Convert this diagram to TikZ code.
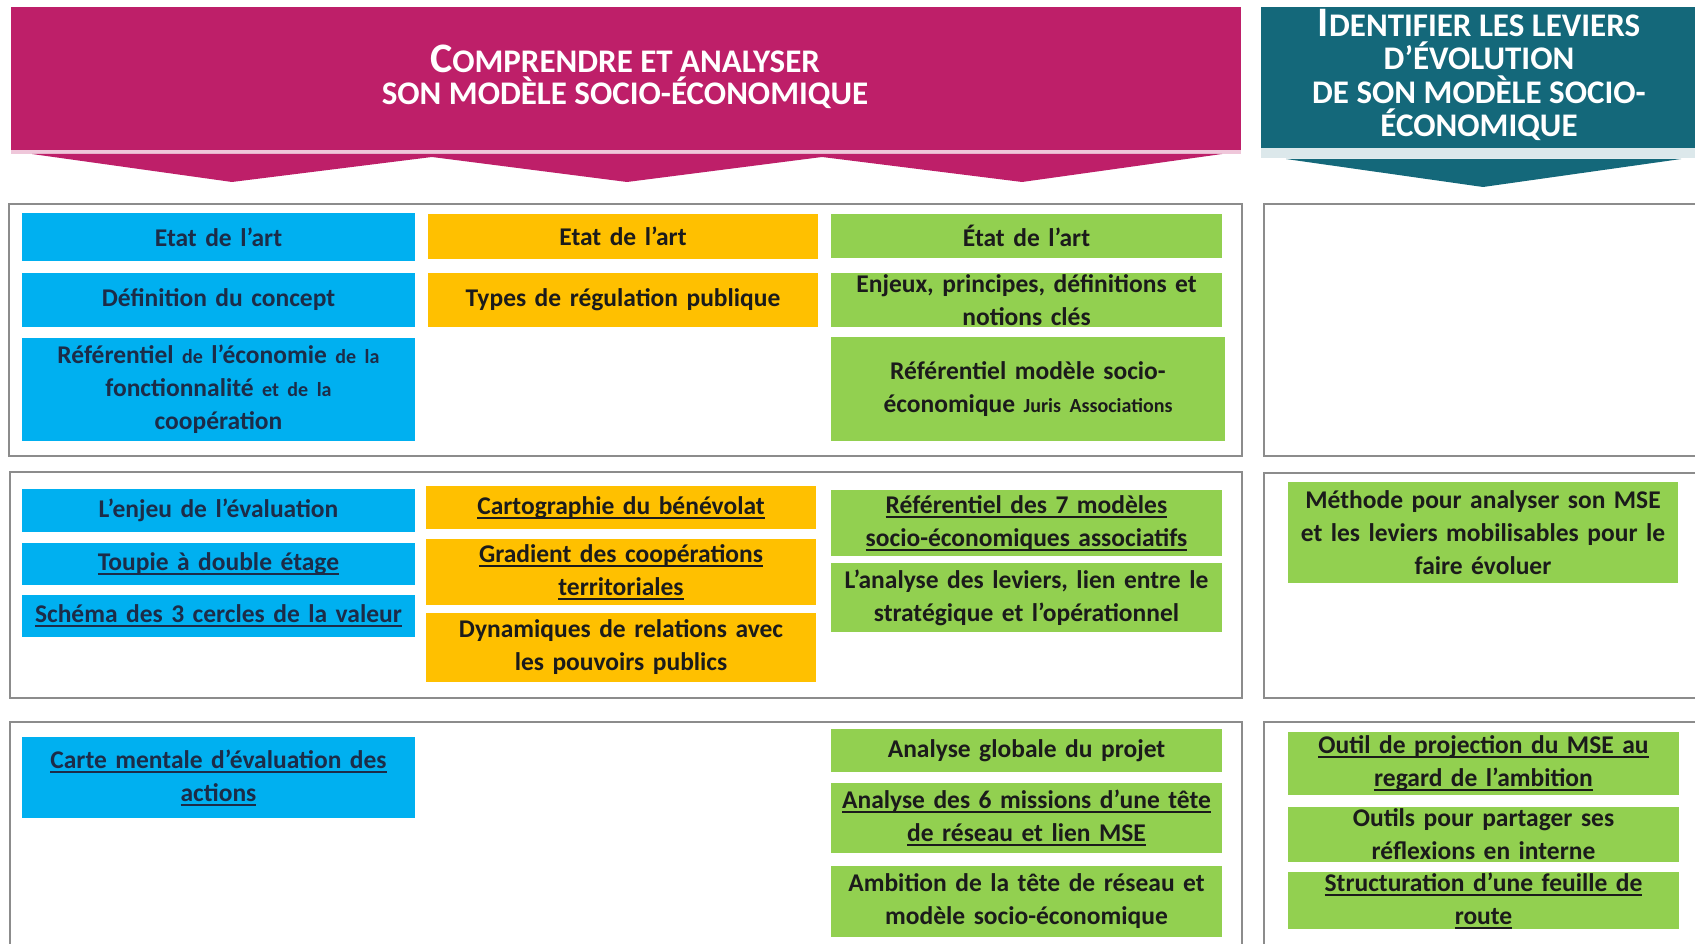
\documentclass[tikz,border=0pt]{standalone}
\usepackage{fontspec}
\setmainfont{Carlito}
\definecolor{mgt}{HTML}{BE1F69}
\definecolor{tealb}{HTML}{14687A}
\definecolor{bluebx}{HTML}{00B0F0}
\definecolor{orangebx}{HTML}{FFC000}
\definecolor{greenbx}{HTML}{92D050}
\definecolor{frameg}{HTML}{8C8C8C}
\definecolor{txtdark}{HTML}{1B1B1B}
\definecolor{txtnavy}{HTML}{1C2C48}
\newcommand\nolsk{\lineskiplimit=-50pt\relax}
\newcommand\ulx[1]{\leavevmode{\setbox0\hbox{#1}\rlap{\rule[-4.5pt]{\wd0}{1.8pt}}\box0}}
\newcommand\smw[1]{{\fontsize{20}{33}\selectfont #1}}
\newcommand\firstcap[1]{{\fontsize{42}{42}\selectfont #1}}
\newcommand\mybox[7]{\node[boxbase,fill=#6,minimum width={(#4-#2)*1pt},minimum height={(#5-#3)*1pt},text width={(#4-#2-8)*1pt}] (#1) at ({(#2+#4)/2},{(#3+#5)/2}) {#7};}
\newcommand\myframe[5]{\node[framebase,minimum width={(#4-#2)*1pt},minimum height={(#5-#3)*1pt}] (#1) at ({(#2+#4)/2},{(#3+#5)/2}) {};}
\tikzset{
  boxbase/.style={inner sep=0pt,align=center,font=\fontsize{25.5}{33}\selectfont\bfseries\nolsk,text=txtdark},
  framebase/.style={draw=frameg,line width=1.6pt,fill=white,inner sep=0pt},
  titletxt/.style={text=white,font=\fontsize{33}{32.5}\selectfont\bfseries\nolsk,align=center,inner sep=0pt},
  titletxtb/.style={text=white,font=\fontsize{33}{33.5}\selectfont\bfseries\nolsk,align=center,inner sep=0pt}
}
\begin{document}
\begin{tikzpicture}[x=1pt,y=-1pt]
\useasboundingbox (0,0) rectangle (1695,944);
\fill[white] (0,0) rectangle (1695,944);
% banners
\fill[mgt] (11,7) rectangle (1241,150);
\fill[mgt!25] (11,150) rectangle (1241,154);
\fill[mgt] (32,154) -- (232,182) -- (432,157) -- (627,182) -- (822,157) -- (1022,182) -- (1222,154) -- cycle;
\fill[tealb] (1261,7) rectangle (1695,148);
\fill[tealb!15] (1261,148) rectangle (1695,158);
\fill[tealb] (1286,159) -- (1483,187) -- (1681,159) -- cycle;
\node[titletxt] (t1) at (625,77) {\firstcap{C}OMPRENDRE ET ANALYSER\\SON MODÈLE SOCIO-ÉCONOMIQUE};
\node[titletxtb] (t3) at (1479,75) {\firstcap{I}DENTIFIER LES LEVIERS\\D’ÉVOLUTION\\DE SON MODÈLE SOCIO-\\ÉCONOMIQUE};
% frames
\myframe{f1l}{9}{204}{1242}{456}
\myframe{f1r}{1264}{204}{1705}{456}
\myframe{f2l}{10}{472}{1242}{698}
\myframe{f2r}{1264}{473}{1705}{698}
\myframe{f3l}{10}{722}{1242}{960}
\myframe{f3r}{1264}{722}{1705}{960}
% row 1
\mybox{b1}{22}{213}{415}{261}{bluebx}{\color{txtnavy}Etat de l’art}
\mybox{b2}{22}{273}{415}{327}{bluebx}{\color{txtnavy}Définition du concept}
\mybox{b3}{22}{338}{415}{441}{bluebx}{\color{txtnavy}Référentiel \smw{de} l’économie \smw{de la}\\fonctionnalité \smw{et de la}\\coopération}
\mybox{o1}{428}{214}{818}{259}{orangebx}{Etat de l’art}
\mybox{o2}{428}{273}{818}{327}{orangebx}{Types de régulation publique}
\mybox{g1}{831}{214}{1222}{258}{greenbx}{État de l’art}
\mybox{g2}{831}{273}{1222}{327}{greenbx}{Enjeux, principes, définitions et\\notions clés}
\mybox{g3}{831}{337}{1225}{441}{greenbx}{Référentiel modèle socio-\\économique \smw{Juris Associations}}
% row 2
\mybox{b4}{22}{489}{415}{532}{bluebx}{\color{txtnavy}L’enjeu de l’évaluation}
\mybox{b5}{22}{543}{415}{585}{bluebx}{\color{txtnavy}\ulx{Toupie à double étage}}
\mybox{b6}{22}{595}{415}{637}{bluebx}{\color{txtnavy}\ulx{Schéma des 3 cercles de la valeur}}
\mybox{o3}{426}{486}{816}{529}{orangebx}{\ulx{Cartographie du bénévolat}}
\mybox{o4}{426}{539}{816}{605}{orangebx}{\ulx{Gradient des coopérations}\\\ulx{territoriales}}
\mybox{o5}{426}{613}{816}{682}{orangebx}{Dynamiques de relations avec\\les pouvoirs publics}
\mybox{g4}{831}{490}{1222}{556}{greenbx}{\ulx{Référentiel des 7 modèles}\\\ulx{socio-économiques associatifs}}
\mybox{g5}{831}{563}{1222}{632}{greenbx}{L’analyse des leviers, lien entre le\\stratégique et l’opérationnel}
\mybox{r1}{1288}{482}{1678}{583}{greenbx}{Méthode pour analyser son MSE\\et les leviers mobilisables pour le\\faire évoluer}
% row 3
\mybox{b7}{22}{737}{415}{818}{bluebx}{\color{txtnavy}\ulx{Carte mentale d’évaluation des}\\\ulx{actions}}
\mybox{g6}{831}{729}{1222}{772}{greenbx}{Analyse globale du projet}
\mybox{g7}{831}{783}{1222}{853}{greenbx}{\ulx{Analyse des 6 missions d’une tête}\\\ulx{de réseau et lien MSE}}
\mybox{g8}{831}{866}{1222}{937}{greenbx}{Ambition de la tête de réseau et\\modèle socio-économique}
\mybox{r2}{1288}{732}{1679}{795}{greenbx}{\ulx{Outil de projection du MSE au}\\\ulx{regard de l’ambition}}
\mybox{r3}{1288}{807}{1679}{862}{greenbx}{Outils pour partager ses\\réflexions en interne}
\mybox{r4}{1288}{873}{1679}{928}{greenbx}{\ulx{Structuration d’une feuille de}\\\ulx{route}}
\end{tikzpicture}
\end{document}
